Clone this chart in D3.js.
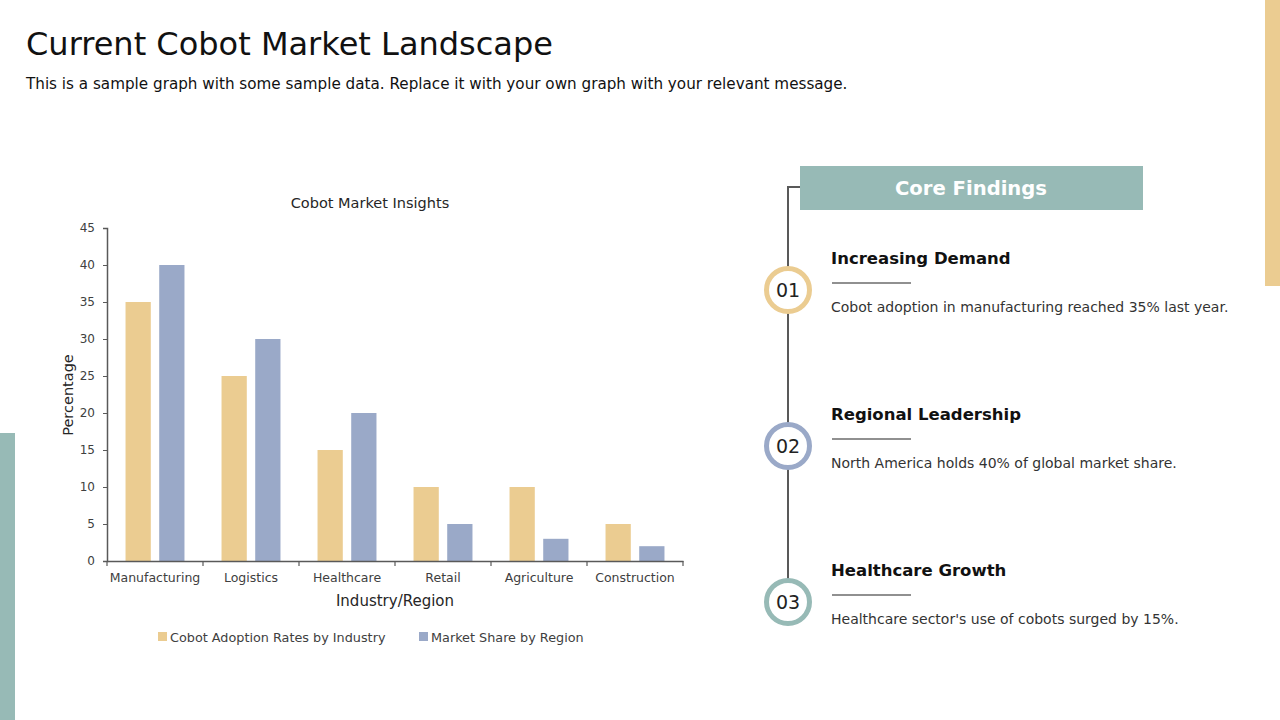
<!DOCTYPE html>
<html>
<head>
<meta charset="utf-8">
<script src="https://cdn.jsdelivr.net/npm/d3@7"></script>
<style>
  body { margin: 0; background: #fff; }
  svg { display: block; font-family: "DejaVu Sans", sans-serif; }
</style>
</head>
<body>
<svg id="chart" width="1280" height="720"></svg>
<script>
const categories = ["Manufacturing", "Logistics", "Healthcare", "Retail", "Agriculture", "Construction"];
const adoption = [35, 25, 15, 10, 10, 5];
const marketShare = [40, 30, 20, 5, 3, 2];
const seriesNames = ["Cobot Adoption Rates by Industry", "Market Share by Region"];
const yTicks = [0, 5, 10, 15, 20, 25, 30, 35, 40, 45];

const findings = [
  { num: "01", title: "Increasing Demand", text: "Cobot adoption in manufacturing reached 35% last year." },
  { num: "02", title: "Regional Leadership", text: "North America holds 40% of global market share." },
  { num: "03", title: "Healthcare Growth", text: "Healthcare sector's use of cobots surged by 15%." }
];

const orange = "#ebcc91";
const blue = "#9aa9c8";
const teal = "#97bab6";
const ringColors = [orange, blue, teal];

const svg = d3.select("#chart");

// side accent bars
svg.append("rect").attr("x", 1265).attr("y", 0).attr("width", 15).attr("height", 286).attr("fill", orange);
svg.append("rect").attr("x", 0).attr("y", 433).attr("width", 15).attr("height", 287).attr("fill", teal);

// heading
svg.append("text").attr("x", 26).attr("y", 55)
  .attr("font-size", 32).attr("fill", "#111")
  .text("Current Cobot Market Landscape");
svg.append("text").attr("x", 26).attr("y", 89)
  .attr("font-size", 15.2).attr("fill", "#111")
  .text("This is a sample graph with some sample data. Replace it with your own graph with your relevant message.");

/*
 bar chart
 */
const plotLeft = 107, plotRight = 683, plotTop = 228, plotBottom = 561;

const x0 = d3.scaleBand().domain(categories).range([plotLeft, plotRight]).paddingInner(0).paddingOuter(0);
const x1 = d3.scaleBand().domain([0, 1]).range([0, x0.bandwidth()]).paddingInner(0.25).paddingOuter(0.55);
const y = d3.scaleLinear().domain([0, 45]).range([plotBottom, plotTop]);

const g = svg.append("g");

const groups = g.selectAll("g.cat").data(categories).join("g")
  .attr("class", "cat")
  .attr("transform", d => `translate(${x0(d)},0)`);

groups.selectAll("rect").data((d, i) => [adoption[i], marketShare[i]]).join("rect")
  .attr("x", (d, j) => x1(j))
  .attr("y", d => y(d))
  .attr("width", x1.bandwidth())
  .attr("height", d => y(0) - y(d))
  .attr("fill", (d, j) => j === 0 ? orange : blue);

// y axis
const yAxis = g.append("g").attr("transform", `translate(${plotLeft},0)`)
  .call(d3.axisLeft(y).tickValues(yTicks).tickSize(4).tickPadding(8));
yAxis.select(".domain").attr("stroke", "#595959").attr("stroke-width", 1.5);
yAxis.selectAll(".tick line").attr("stroke", "#595959");
yAxis.selectAll(".tick text").attr("font-size", 12).attr("fill", "#404040")
  .attr("font-family", "DejaVu Sans, sans-serif");

// x axis: ticks between categories
const xAxis = g.append("g").attr("transform", `translate(0,${plotBottom})`)
  .call(d3.axisBottom(x0).tickSize(0).tickPadding(12));
xAxis.select(".domain").attr("stroke", "#595959").attr("stroke-width", 1.5);
xAxis.selectAll(".tick text").attr("font-size", 12.5).attr("fill", "#404040")
  .attr("font-family", "DejaVu Sans, sans-serif");
xAxis.selectAll("line.sep").data(categories.concat([null])).join("line")
  .attr("class", "sep")
  .attr("x1", (d, i) => i < categories.length ? x0(d) : plotRight)
  .attr("x2", (d, i) => i < categories.length ? x0(d) : plotRight)
  .attr("y1", 0).attr("y2", 5)
  .attr("stroke", "#595959").attr("stroke-width", 1.2);

// chart title and axis titles
svg.append("text").attr("x", 370).attr("y", 208).attr("text-anchor", "middle")
  .attr("font-size", 14.5).attr("fill", "#262626").text("Cobot Market Insights");
svg.append("text").attr("x", 395).attr("y", 606).attr("text-anchor", "middle")
  .attr("font-size", 15).attr("fill", "#262626").text("Industry/Region");
svg.append("text").attr("transform", "translate(73,395) rotate(-90)").attr("text-anchor", "middle")
  .attr("font-size", 14.5).attr("fill", "#262626").text("Percentage");

// legend
const legendX = [158, 419];
const legend = svg.append("g").selectAll("g").data(seriesNames).join("g")
  .attr("transform", (d, i) => `translate(${legendX[i]},637)`);
legend.append("rect").attr("x", 0).attr("y", -5).attr("width", 9).attr("height", 9)
  .attr("fill", (d, i) => i === 0 ? orange : blue);
legend.append("text").attr("x", 12).attr("y", 5).attr("font-size", 12.8).attr("fill", "#404040")
  .text(d => d);

/*
 core findings panel
 */
const lineX = 788;
const rowY = d3.scaleLinear().domain([0, 1]).range([290, 446]);

svg.append("path")
  .attr("d", `M800,187 H${lineX} V${rowY(2)}`)
  .attr("fill", "none").attr("stroke", "#595959").attr("stroke-width", 2);

svg.append("rect").attr("x", 800).attr("y", 166).attr("width", 343).attr("height", 44).attr("fill", teal);
svg.append("text").attr("x", 971).attr("y", 195).attr("text-anchor", "middle")
  .attr("font-size", 19.6).attr("font-weight", "bold").attr("fill", "#fff").text("Core Findings");

const rows = svg.append("g").selectAll("g").data(findings).join("g")
  .attr("transform", (d, i) => `translate(0,${rowY(i)})`);

rows.append("circle").attr("cx", lineX).attr("cy", 0).attr("r", 21.5)
  .attr("fill", "#fff").attr("stroke", (d, i) => ringColors[i]).attr("stroke-width", 5);
rows.append("text").attr("x", lineX).attr("y", 7).attr("text-anchor", "middle")
  .attr("font-size", 19).attr("fill", "#222").text(d => d.num);
rows.append("text").attr("x", 831).attr("y", -26).attr("font-size", 16.5)
  .attr("font-weight", "bold").attr("fill", "#111").text(d => d.title);
rows.append("line").attr("x1", 832).attr("x2", 911).attr("y1", -7).attr("y2", -7)
  .attr("stroke", "#222").attr("stroke-width", 1.2);
rows.append("text").attr("x", 831).attr("y", 22).attr("font-size", 14)
  .attr("fill", "#333").text(d => d.text);
</script>
</body>
</html>
